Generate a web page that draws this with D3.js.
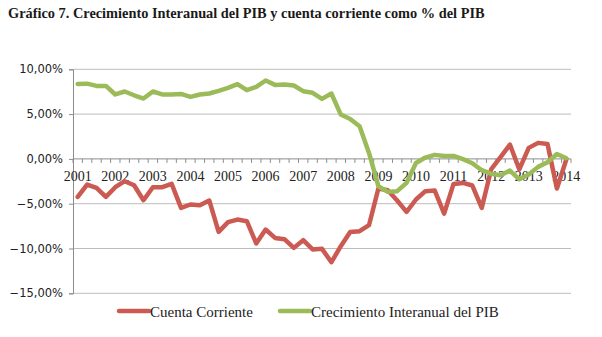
<!DOCTYPE html>
<html><head><meta charset="utf-8">
<script src="https://cdn.jsdelivr.net/npm/d3@7"></script>
<style>
html,body{margin:0;padding:0;background:#fff;}
svg{display:block;}
</style></head>
<body>
<svg id="chart" width="602" height="337"></svg>
<script>
const title = "Gráfico 7. Crecimiento Interanual del PIB y cuenta corriente como % del PIB";
const years = ["2001","2002","2003","2004","2005","2006","2007","2008","2009","2010","2011","2012","2013","2014"];
const quarters = [];
years.forEach(yr => ["T1","T2","T3","T4"].forEach(q => quarters.push(yr + " " + q)));
const categories = quarters.slice(0, 53); // 2001 T1 .. 2014 T1
const yTicks = [10, 5, 0, -5, -10, -15];
const cuentaCorriente = [-4.24,-2.86,-3.24,-4.24,-3.16,-2.49,-2.94,-4.61,-3.16,-3.16,-2.79,-5.47,-5.09,-5.17,-4.64,-8.15,-7.06,-6.77,-6.95,-9.44,-7.88,-8.82,-8.96,-9.93,-9.07,-10.1,-10.04,-11.53,-9.74,-8.15,-8.07,-7.4,-3.3,-3.49,-4.64,-5.91,-4.53,-3.6,-3.53,-6.1,-2.79,-2.68,-2.97,-5.47,-1.18,0.2,1.6,-1.18,1.23,1.79,1.67,-3.3,-0.07];
const crecimientoPIB = [8.37,8.4,8.15,8.15,7.19,7.52,7.1,6.74,7.52,7.19,7.19,7.25,6.92,7.19,7.3,7.6,7.92,8.34,7.67,8.04,8.75,8.26,8.3,8.19,7.56,7.38,6.7,7.3,4.95,4.46,3.65,0.67,-3.05,-3.68,-3.6,-2.68,-0.45,0.15,0.45,0.33,0.33,-0.03,-0.48,-1.26,-1.65,-1.82,-1.3,-2.28,-1.74,-0.89,-0.37,0.55,0.08];
const seriesNames = ["Cuenta Corriente","Crecimiento Interanual del PIB"];
const colors = ["#cb5a53","#9bbb59"];

const svg = d3.select("#chart");
const mLeft = 73, mRight = 571, mTop = 69.3, mBottom = 293.3;

// title
const t = svg.append("text").attr("x", 8).attr("y", 18)
  .attr("font-family", "Liberation Serif, serif").attr("font-weight", "bold")
  .attr("font-size", 16).attr("fill", "#1a1a1a").text(title);
const tw = t.node().getComputedTextLength();
t.attr("font-size", 16 * 477 / tw);

const x = d3.scaleBand().domain(categories).range([mLeft, mRight]);
const y = d3.scaleLinear().domain([-15, 10]).range([mBottom, mTop]);

// gridlines
svg.append("g").selectAll("line").data(yTicks.filter(v => v !== 0)).join("line")
  .attr("x1", mLeft).attr("x2", mRight)
  .attr("y1", d => y(d)).attr("y2", d => y(d))
  .attr("stroke", "#bdbdbd").attr("stroke-width", 1);

// y axis
const yAxis = d3.axisLeft(y).tickValues(yTicks).tickSize(4)
  .tickFormat(d => d3.format(".2f")(d).replace(".", ",") + "%");
const ga = svg.append("g").attr("transform", `translate(${mLeft},0)`).call(yAxis);
ga.select(".domain").attr("stroke", "#8c8c8c");
ga.selectAll(".tick line").attr("stroke", "#8c8c8c");
ga.selectAll(".tick text").attr("font-family", "DejaVu Sans, sans-serif")
  .attr("font-size", 11.5).attr("fill", "#222").attr("x", -10);

// x axis at zero
const xAxisG = svg.append("g").attr("transform", `translate(0,${y(0)})`);
xAxisG.append("line").attr("x1", mLeft).attr("x2", mRight).attr("y1", 0).attr("y2", 0)
  .attr("stroke", "#8c8c8c");
const bounds = categories.map(c => x(c)).concat([mRight]);
xAxisG.selectAll("line.tk").data(bounds).join("line").attr("class", "tk")
  .attr("x1", d => d).attr("x2", d => d).attr("y1", 0).attr("y2", 4)
  .attr("stroke", "#8c8c8c");
xAxisG.selectAll("text").data(categories.filter((c, i) => i % 4 === 0)).join("text")
  .attr("x", d => x(d) + x.bandwidth() / 2).attr("y", 22)
  .attr("text-anchor", "middle").attr("font-family", "Liberation Serif, serif")
  .attr("font-size", 14).attr("fill", "#222").text(d => d.slice(0, 4));

// lines
const line = d3.line().x((d, i) => x(categories[i]) + x.bandwidth() / 2).y(d => y(d));
[cuentaCorriente, crecimientoPIB].forEach((s, k) => {
  svg.append("path").datum(s).attr("d", line).attr("fill", "none")
    .attr("stroke", colors[k]).attr("stroke-width", 4.5)
    .attr("stroke-linejoin", "round").attr("stroke-linecap", "round");
});

// legend
const legendX = [119, 280];
seriesNames.forEach((n, k) => {
  svg.append("line").attr("x1", legendX[k]).attr("x2", legendX[k] + 30)
    .attr("y1", 311).attr("y2", 311).attr("stroke", colors[k]).attr("stroke-width", 4.5)
    .attr("stroke-linecap", "round");
  svg.append("text").attr("x", legendX[k] + 31).attr("y", 317)
    .attr("font-family", "Liberation Serif, serif").attr("font-size", 15)
    .attr("fill", "#222").text(n);
});
</script>
</body></html>
